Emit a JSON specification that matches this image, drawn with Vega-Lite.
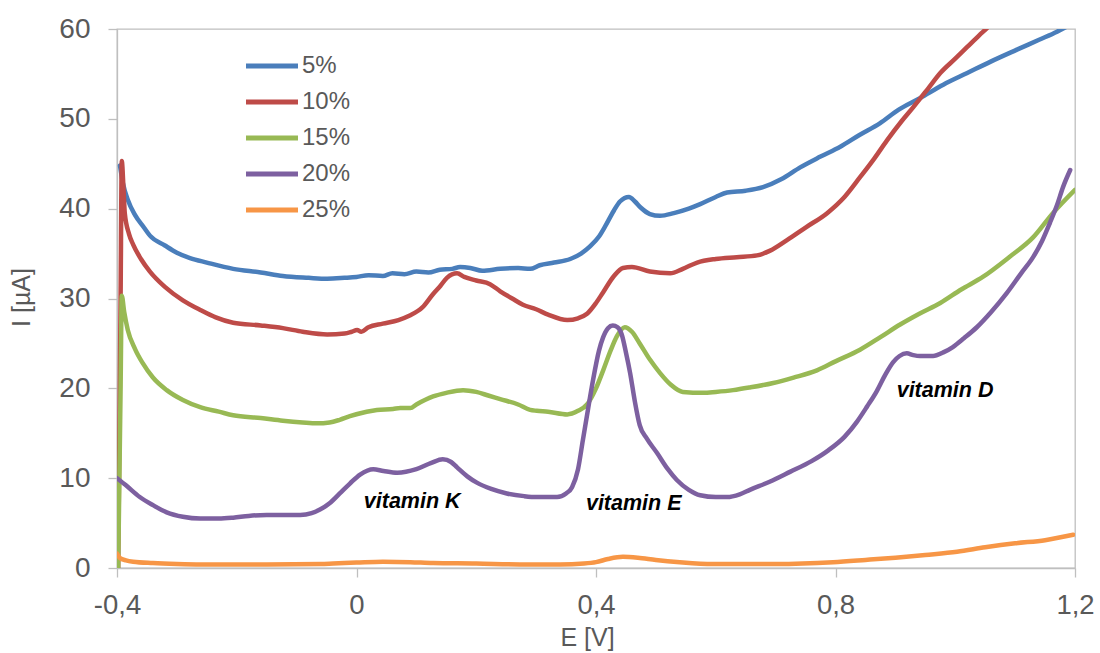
{
  "$schema": "https://vega.github.io/schema/vega-lite/v6.json",
  "width": 958,
  "height": 539,
  "autosize": {"type": "none"},
  "padding": {"left": 117, "top": 29, "right": 25, "bottom": 85},
  "config": {
    "font": "Liberation Sans",
    "view": {"stroke": "#BFBFBF", "strokeWidth": 1.3},
    "axis": {
      "grid": false,
      "domainColor": "#BFBFBF",
      "domainWidth": 1.3,
      "tickColor": "#BFBFBF",
      "tickWidth": 1.3,
      "tickSize": 9,
      "labelColor": "#595959",
      "titleColor": "#595959",
      "labelFont": "Liberation Sans",
      "titleFont": "Liberation Sans",
      "titleFontWeight": "normal",
      "labelOverlap": false,
      "labelFlush": false
    }
  },
  "datasets": {
    "curves": [
      {"s": "5%", "E": -0.395, "I": 44.8}, {"s": "5%", "E": -0.39, "I": 42.8}, {"s": "5%", "E": -0.382, "I": 41.0},
      {"s": "5%", "E": -0.37, "I": 39.3}, {"s": "5%", "E": -0.355, "I": 37.9}, {"s": "5%", "E": -0.345, "I": 37.0},
      {"s": "5%", "E": -0.32, "I": 35.9}, {"s": "5%", "E": -0.3, "I": 35.1}, {"s": "5%", "E": -0.278, "I": 34.5},
      {"s": "5%", "E": -0.25, "I": 34.0}, {"s": "5%", "E": -0.206, "I": 33.3}, {"s": "5%", "E": -0.16, "I": 32.9},
      {"s": "5%", "E": -0.123, "I": 32.5}, {"s": "5%", "E": -0.08, "I": 32.3}, {"s": "5%", "E": -0.049, "I": 32.2},
      {"s": "5%", "E": -0.02, "I": 32.3}, {"s": "5%", "E": 0.0, "I": 32.4}, {"s": "5%", "E": 0.02, "I": 32.6},
      {"s": "5%", "E": 0.044, "I": 32.5}, {"s": "5%", "E": 0.06, "I": 32.8}, {"s": "5%", "E": 0.08, "I": 32.7},
      {"s": "5%", "E": 0.1, "I": 33.0}, {"s": "5%", "E": 0.12, "I": 32.9}, {"s": "5%", "E": 0.139, "I": 33.2},
      {"s": "5%", "E": 0.16, "I": 33.3}, {"s": "5%", "E": 0.173, "I": 33.5}, {"s": "5%", "E": 0.19, "I": 33.4},
      {"s": "5%", "E": 0.21, "I": 33.1}, {"s": "5%", "E": 0.24, "I": 33.3}, {"s": "5%", "E": 0.27, "I": 33.4},
      {"s": "5%", "E": 0.29, "I": 33.3}, {"s": "5%", "E": 0.306, "I": 33.7}, {"s": "5%", "E": 0.33, "I": 34.0},
      {"s": "5%", "E": 0.357, "I": 34.4}, {"s": "5%", "E": 0.375, "I": 35.0}, {"s": "5%", "E": 0.39, "I": 35.8},
      {"s": "5%", "E": 0.405, "I": 36.9}, {"s": "5%", "E": 0.415, "I": 38.0}, {"s": "5%", "E": 0.43, "I": 39.8},
      {"s": "5%", "E": 0.44, "I": 40.8}, {"s": "5%", "E": 0.455, "I": 41.3}, {"s": "5%", "E": 0.465, "I": 40.8},
      {"s": "5%", "E": 0.475, "I": 40.1}, {"s": "5%", "E": 0.49, "I": 39.4}, {"s": "5%", "E": 0.507, "I": 39.2},
      {"s": "5%", "E": 0.53, "I": 39.5}, {"s": "5%", "E": 0.555, "I": 40.0}, {"s": "5%", "E": 0.574, "I": 40.5},
      {"s": "5%", "E": 0.6, "I": 41.3}, {"s": "5%", "E": 0.619, "I": 41.8}, {"s": "5%", "E": 0.65, "I": 42.0},
      {"s": "5%", "E": 0.679, "I": 42.4}, {"s": "5%", "E": 0.71, "I": 43.3}, {"s": "5%", "E": 0.741, "I": 44.6},
      {"s": "5%", "E": 0.775, "I": 45.8}, {"s": "5%", "E": 0.808, "I": 46.9}, {"s": "5%", "E": 0.84, "I": 48.2},
      {"s": "5%", "E": 0.874, "I": 49.5}, {"s": "5%", "E": 0.905, "I": 51.0}, {"s": "5%", "E": 0.941, "I": 52.3},
      {"s": "5%", "E": 0.98, "I": 53.8}, {"s": "5%", "E": 1.02, "I": 55.1}, {"s": "5%", "E": 1.06, "I": 56.4},
      {"s": "5%", "E": 1.103, "I": 57.7}, {"s": "5%", "E": 1.14, "I": 58.8}, {"s": "5%", "E": 1.17, "I": 59.7},
      {"s": "5%", "E": 1.19, "I": 60.4},

      {"s": "10%", "E": -0.398, "I": 0.0}, {"s": "10%", "E": -0.394, "I": 30.0}, {"s": "10%", "E": -0.392, "I": 45.3},
      {"s": "10%", "E": -0.389, "I": 42.0}, {"s": "10%", "E": -0.387, "I": 39.5}, {"s": "10%", "E": -0.38, "I": 37.2},
      {"s": "10%", "E": -0.373, "I": 36.0}, {"s": "10%", "E": -0.36, "I": 34.4}, {"s": "10%", "E": -0.345, "I": 33.0},
      {"s": "10%", "E": -0.32, "I": 31.3}, {"s": "10%", "E": -0.29, "I": 29.8}, {"s": "10%", "E": -0.26, "I": 28.7},
      {"s": "10%", "E": -0.235, "I": 27.9}, {"s": "10%", "E": -0.206, "I": 27.3}, {"s": "10%", "E": -0.16, "I": 27.0},
      {"s": "10%", "E": -0.123, "I": 26.7}, {"s": "10%", "E": -0.09, "I": 26.3}, {"s": "10%", "E": -0.049, "I": 26.0},
      {"s": "10%", "E": -0.02, "I": 26.1}, {"s": "10%", "E": -0.008, "I": 26.3}, {"s": "10%", "E": 0.001, "I": 26.5},
      {"s": "10%", "E": 0.008, "I": 26.3}, {"s": "10%", "E": 0.02, "I": 26.8}, {"s": "10%", "E": 0.044, "I": 27.2},
      {"s": "10%", "E": 0.07, "I": 27.6}, {"s": "10%", "E": 0.089, "I": 28.1}, {"s": "10%", "E": 0.11, "I": 29.0},
      {"s": "10%", "E": 0.128, "I": 30.5}, {"s": "10%", "E": 0.14, "I": 31.4}, {"s": "10%", "E": 0.151, "I": 32.3},
      {"s": "10%", "E": 0.168, "I": 32.8}, {"s": "10%", "E": 0.18, "I": 32.4}, {"s": "10%", "E": 0.2, "I": 32.0},
      {"s": "10%", "E": 0.223, "I": 31.6}, {"s": "10%", "E": 0.24, "I": 30.8}, {"s": "10%", "E": 0.26, "I": 30.0},
      {"s": "10%", "E": 0.278, "I": 29.3}, {"s": "10%", "E": 0.3, "I": 28.8}, {"s": "10%", "E": 0.32, "I": 28.2},
      {"s": "10%", "E": 0.352, "I": 27.6}, {"s": "10%", "E": 0.37, "I": 27.8}, {"s": "10%", "E": 0.385, "I": 28.3},
      {"s": "10%", "E": 0.4, "I": 29.5}, {"s": "10%", "E": 0.412, "I": 30.7}, {"s": "10%", "E": 0.43, "I": 32.5},
      {"s": "10%", "E": 0.445, "I": 33.4}, {"s": "10%", "E": 0.46, "I": 33.5}, {"s": "10%", "E": 0.49, "I": 33.0},
      {"s": "10%", "E": 0.524, "I": 32.8}, {"s": "10%", "E": 0.545, "I": 33.3}, {"s": "10%", "E": 0.569, "I": 34.0},
      {"s": "10%", "E": 0.6, "I": 34.4}, {"s": "10%", "E": 0.635, "I": 34.6}, {"s": "10%", "E": 0.669, "I": 34.8},
      {"s": "10%", "E": 0.69, "I": 35.3}, {"s": "10%", "E": 0.719, "I": 36.5}, {"s": "10%", "E": 0.75, "I": 37.9},
      {"s": "10%", "E": 0.786, "I": 39.5}, {"s": "10%", "E": 0.815, "I": 41.3}, {"s": "10%", "E": 0.841, "I": 43.5},
      {"s": "10%", "E": 0.865, "I": 45.6}, {"s": "10%", "E": 0.886, "I": 47.6}, {"s": "10%", "E": 0.91, "I": 49.7},
      {"s": "10%", "E": 0.93, "I": 51.3}, {"s": "10%", "E": 0.955, "I": 53.4}, {"s": "10%", "E": 0.975, "I": 55.1},
      {"s": "10%", "E": 1.0, "I": 56.7}, {"s": "10%", "E": 1.02, "I": 58.0}, {"s": "10%", "E": 1.04, "I": 59.3},
      {"s": "10%", "E": 1.053, "I": 60.1}, {"s": "10%", "E": 1.08, "I": 62.0},

      {"s": "15%", "E": -0.398, "I": 0.0}, {"s": "15%", "E": -0.394, "I": 20.0}, {"s": "15%", "E": -0.392, "I": 30.3},
      {"s": "15%", "E": -0.388, "I": 28.5}, {"s": "15%", "E": -0.382, "I": 26.5}, {"s": "15%", "E": -0.37, "I": 24.4},
      {"s": "15%", "E": -0.357, "I": 22.8}, {"s": "15%", "E": -0.34, "I": 21.2}, {"s": "15%", "E": -0.317, "I": 19.8},
      {"s": "15%", "E": -0.29, "I": 18.7}, {"s": "15%", "E": -0.261, "I": 17.9}, {"s": "15%", "E": -0.23, "I": 17.4},
      {"s": "15%", "E": -0.206, "I": 17.0}, {"s": "15%", "E": -0.16, "I": 16.7}, {"s": "15%", "E": -0.123, "I": 16.4},
      {"s": "15%", "E": -0.09, "I": 16.2}, {"s": "15%", "E": -0.066, "I": 16.1}, {"s": "15%", "E": -0.045, "I": 16.2},
      {"s": "15%", "E": -0.028, "I": 16.5}, {"s": "15%", "E": -0.011, "I": 16.9}, {"s": "15%", "E": 0.017, "I": 17.4},
      {"s": "15%", "E": 0.034, "I": 17.6}, {"s": "15%", "E": 0.061, "I": 17.7}, {"s": "15%", "E": 0.073, "I": 17.8},
      {"s": "15%", "E": 0.09, "I": 17.8}, {"s": "15%", "E": 0.1, "I": 18.2}, {"s": "15%", "E": 0.128, "I": 19.1},
      {"s": "15%", "E": 0.15, "I": 19.5}, {"s": "15%", "E": 0.178, "I": 19.8}, {"s": "15%", "E": 0.2, "I": 19.6},
      {"s": "15%", "E": 0.22, "I": 19.2}, {"s": "15%", "E": 0.24, "I": 18.8}, {"s": "15%", "E": 0.27, "I": 18.2},
      {"s": "15%", "E": 0.29, "I": 17.6}, {"s": "15%", "E": 0.301, "I": 17.5}, {"s": "15%", "E": 0.32, "I": 17.4},
      {"s": "15%", "E": 0.352, "I": 17.1}, {"s": "15%", "E": 0.37, "I": 17.5}, {"s": "15%", "E": 0.385, "I": 18.2},
      {"s": "15%", "E": 0.4, "I": 20.0}, {"s": "15%", "E": 0.412, "I": 22.0}, {"s": "15%", "E": 0.425, "I": 24.3},
      {"s": "15%", "E": 0.435, "I": 25.8}, {"s": "15%", "E": 0.448, "I": 26.8}, {"s": "15%", "E": 0.46, "I": 26.3},
      {"s": "15%", "E": 0.473, "I": 25.0}, {"s": "15%", "E": 0.49, "I": 23.2}, {"s": "15%", "E": 0.507, "I": 21.7},
      {"s": "15%", "E": 0.525, "I": 20.4}, {"s": "15%", "E": 0.545, "I": 19.6}, {"s": "15%", "E": 0.579, "I": 19.5},
      {"s": "15%", "E": 0.6, "I": 19.6}, {"s": "15%", "E": 0.629, "I": 19.8}, {"s": "15%", "E": 0.657, "I": 20.1},
      {"s": "15%", "E": 0.696, "I": 20.6}, {"s": "15%", "E": 0.73, "I": 21.2}, {"s": "15%", "E": 0.769, "I": 22.0},
      {"s": "15%", "E": 0.8, "I": 23.0}, {"s": "15%", "E": 0.841, "I": 24.3}, {"s": "15%", "E": 0.875, "I": 25.7},
      {"s": "15%", "E": 0.908, "I": 27.1}, {"s": "15%", "E": 0.94, "I": 28.3}, {"s": "15%", "E": 0.975, "I": 29.5},
      {"s": "15%", "E": 1.01, "I": 31.0}, {"s": "15%", "E": 1.046, "I": 32.4}, {"s": "15%", "E": 1.09, "I": 34.6},
      {"s": "15%", "E": 1.13, "I": 36.8}, {"s": "15%", "E": 1.163, "I": 39.5}, {"s": "15%", "E": 1.2, "I": 42.1},

      {"s": "20%", "E": -0.4, "I": 10.0}, {"s": "20%", "E": -0.385, "I": 9.2}, {"s": "20%", "E": -0.362, "I": 7.9},
      {"s": "20%", "E": -0.34, "I": 7.0}, {"s": "20%", "E": -0.317, "I": 6.2}, {"s": "20%", "E": -0.29, "I": 5.7},
      {"s": "20%", "E": -0.261, "I": 5.5}, {"s": "20%", "E": -0.23, "I": 5.5}, {"s": "20%", "E": -0.206, "I": 5.6},
      {"s": "20%", "E": -0.18, "I": 5.8}, {"s": "20%", "E": -0.15, "I": 5.9}, {"s": "20%", "E": -0.12, "I": 5.9},
      {"s": "20%", "E": -0.094, "I": 5.9}, {"s": "20%", "E": -0.075, "I": 6.1}, {"s": "20%", "E": -0.061, "I": 6.5},
      {"s": "20%", "E": -0.045, "I": 7.2}, {"s": "20%", "E": -0.028, "I": 8.3}, {"s": "20%", "E": -0.011, "I": 9.4},
      {"s": "20%", "E": 0.006, "I": 10.4}, {"s": "20%", "E": 0.028, "I": 11.0}, {"s": "20%", "E": 0.045, "I": 10.8},
      {"s": "20%", "E": 0.068, "I": 10.6}, {"s": "20%", "E": 0.1, "I": 11.0}, {"s": "20%", "E": 0.125, "I": 11.7},
      {"s": "20%", "E": 0.144, "I": 12.1}, {"s": "20%", "E": 0.158, "I": 11.8}, {"s": "20%", "E": 0.168, "I": 11.2},
      {"s": "20%", "E": 0.185, "I": 10.2}, {"s": "20%", "E": 0.201, "I": 9.5}, {"s": "20%", "E": 0.225, "I": 8.8},
      {"s": "20%", "E": 0.251, "I": 8.3}, {"s": "20%", "E": 0.28, "I": 8.0}, {"s": "20%", "E": 0.301, "I": 7.9},
      {"s": "20%", "E": 0.335, "I": 7.9}, {"s": "20%", "E": 0.35, "I": 8.3}, {"s": "20%", "E": 0.36, "I": 9.0},
      {"s": "20%", "E": 0.37, "I": 11.0}, {"s": "20%", "E": 0.378, "I": 14.2}, {"s": "20%", "E": 0.387, "I": 17.8},
      {"s": "20%", "E": 0.395, "I": 20.9}, {"s": "20%", "E": 0.405, "I": 24.2}, {"s": "20%", "E": 0.412, "I": 25.7},
      {"s": "20%", "E": 0.42, "I": 26.7}, {"s": "20%", "E": 0.428, "I": 27.0}, {"s": "20%", "E": 0.436, "I": 26.8},
      {"s": "20%", "E": 0.443, "I": 26.0}, {"s": "20%", "E": 0.45, "I": 24.0}, {"s": "20%", "E": 0.457, "I": 21.7},
      {"s": "20%", "E": 0.465, "I": 18.5}, {"s": "20%", "E": 0.473, "I": 15.9}, {"s": "20%", "E": 0.485, "I": 14.4},
      {"s": "20%", "E": 0.502, "I": 12.8}, {"s": "20%", "E": 0.52, "I": 11.0}, {"s": "20%", "E": 0.535, "I": 9.8},
      {"s": "20%", "E": 0.555, "I": 8.7}, {"s": "20%", "E": 0.574, "I": 8.1}, {"s": "20%", "E": 0.6, "I": 7.9},
      {"s": "20%", "E": 0.619, "I": 7.9}, {"s": "20%", "E": 0.64, "I": 8.2}, {"s": "20%", "E": 0.657, "I": 8.7},
      {"s": "20%", "E": 0.69, "I": 9.6}, {"s": "20%", "E": 0.724, "I": 10.7}, {"s": "20%", "E": 0.76, "I": 11.9},
      {"s": "20%", "E": 0.788, "I": 13.1}, {"s": "20%", "E": 0.815, "I": 14.6}, {"s": "20%", "E": 0.836, "I": 16.3},
      {"s": "20%", "E": 0.853, "I": 18.0}, {"s": "20%", "E": 0.869, "I": 19.7}, {"s": "20%", "E": 0.883, "I": 21.5},
      {"s": "20%", "E": 0.896, "I": 22.9}, {"s": "20%", "E": 0.907, "I": 23.6}, {"s": "20%", "E": 0.919, "I": 23.9},
      {"s": "20%", "E": 0.93, "I": 23.7}, {"s": "20%", "E": 0.941, "I": 23.6}, {"s": "20%", "E": 0.963, "I": 23.6},
      {"s": "20%", "E": 0.98, "I": 24.0}, {"s": "20%", "E": 0.996, "I": 24.6}, {"s": "20%", "E": 1.015, "I": 25.6},
      {"s": "20%", "E": 1.036, "I": 26.8}, {"s": "20%", "E": 1.06, "I": 28.5}, {"s": "20%", "E": 1.086, "I": 30.6},
      {"s": "20%", "E": 1.11, "I": 32.8}, {"s": "20%", "E": 1.13, "I": 34.6}, {"s": "20%", "E": 1.145, "I": 36.4},
      {"s": "20%", "E": 1.158, "I": 38.4}, {"s": "20%", "E": 1.17, "I": 40.4}, {"s": "20%", "E": 1.18, "I": 42.4},
      {"s": "20%", "E": 1.192, "I": 44.3},

      {"s": "25%", "E": -0.4, "I": 1.6}, {"s": "25%", "E": -0.395, "I": 1.1}, {"s": "25%", "E": -0.385, "I": 0.85},
      {"s": "25%", "E": -0.373, "I": 0.7}, {"s": "25%", "E": -0.34, "I": 0.55}, {"s": "25%", "E": -0.3, "I": 0.45},
      {"s": "25%", "E": -0.26, "I": 0.4}, {"s": "25%", "E": -0.15, "I": 0.4}, {"s": "25%", "E": -0.06, "I": 0.45},
      {"s": "25%", "E": -0.039, "I": 0.5}, {"s": "25%", "E": 0.0, "I": 0.6}, {"s": "25%", "E": 0.044, "I": 0.7},
      {"s": "25%", "E": 0.09, "I": 0.65}, {"s": "25%", "E": 0.128, "I": 0.55}, {"s": "25%", "E": 0.2, "I": 0.5},
      {"s": "25%", "E": 0.273, "I": 0.4}, {"s": "25%", "E": 0.34, "I": 0.4}, {"s": "25%", "E": 0.38, "I": 0.5},
      {"s": "25%", "E": 0.4, "I": 0.65}, {"s": "25%", "E": 0.42, "I": 1.0}, {"s": "25%", "E": 0.445, "I": 1.25},
      {"s": "25%", "E": 0.47, "I": 1.15}, {"s": "25%", "E": 0.5, "I": 0.9}, {"s": "25%", "E": 0.54, "I": 0.65},
      {"s": "25%", "E": 0.595, "I": 0.45}, {"s": "25%", "E": 0.7, "I": 0.45}, {"s": "25%", "E": 0.796, "I": 0.65},
      {"s": "25%", "E": 0.85, "I": 0.9}, {"s": "25%", "E": 0.9, "I": 1.15}, {"s": "25%", "E": 0.95, "I": 1.45},
      {"s": "25%", "E": 1.003, "I": 1.8}, {"s": "25%", "E": 1.05, "I": 2.3}, {"s": "25%", "E": 1.1, "I": 2.75},
      {"s": "25%", "E": 1.15, "I": 3.1}, {"s": "25%", "E": 1.197, "I": 3.7}
    ],
    "notes": [
      {"E": 0.093, "I": 7.35, "label": "vitamin K"},
      {"E": 0.463, "I": 7.1, "label": "vitamin E"},
      {"E": 0.983, "I": 19.7, "label": "vitamin D"}
    ]
  },
  "layer": [
    {
      "data": {"name": "curves"},
      "mark": {"type": "line", "strokeWidth": 4.5, "interpolate": "monotone", "clip": true, "strokeCap": "round", "strokeJoin": "round"},
      "encoding": {
        "x": {
          "field": "E", "type": "quantitative",
          "scale": {"domain": [-0.4, 1.2], "nice": false, "zero": false},
          "axis": {
            "values": [-0.4, 0, 0.4, 0.8, 1.2],
            "labelExpr": "replace(toString(datum.value), '.', ',')",
            "labelFontSize": 27.5,
            "labelBaseline": "alphabetic",
            "labelPadding": 36,
            "title": "E [V]",
            "titleFontSize": 25,
            "titleX": 470,
            "titleY": 77,
            "titleBaseline": "alphabetic",
            "titleAnchor": "middle"
          }
        },
        "y": {
          "field": "I", "type": "quantitative",
          "scale": {"domain": [0, 60], "nice": false},
          "axis": {
            "values": [0, 10, 20, 30, 40, 50, 60],
            "labelFontSize": 28,
            "labelPadding": 18,
            "labelBaseline": "middle",
            "title": "I [µA]",
            "titleFontSize": 25,
            "titleAngle": -90,
            "titleX": -96,
            "titleY": 268,
            "titleAlign": "center",
            "titleBaseline": "middle"
          }
        },
        "color": {
          "field": "s", "type": "nominal",
          "sort": ["5%", "10%", "15%", "20%", "25%"],
          "scale": {
            "domain": ["5%", "10%", "15%", "20%", "25%"],
            "range": ["#4A7EBB", "#BE4B48", "#98B954", "#7D60A0", "#F79646"]
          },
          "legend": {
            "title": null,
            "orient": "none",
            "legendX": 139.5,
            "legendY": 21.5,
            "padding": 0,
            "symbolType": "M-2,0H2",
            "symbolSize": 676,
            "symbolStrokeWidth": 5,
            "symbolStrokeCap": "round",
            "rowPadding": 8,
            "labelOffset": 14.5,
            "labelFontSize": 24,
            "labelColor": "#595959",
            "labelFont": "Liberation Sans"
          }
        }
      }
    },
    {
      "data": {"name": "notes"},
      "mark": {"type": "text", "font": "Liberation Sans", "fontSize": 21.5, "fontStyle": "italic", "fontWeight": "bold", "color": "#000000", "align": "center", "baseline": "middle"},
      "encoding": {
        "x": {"field": "E", "type": "quantitative"},
        "y": {"field": "I", "type": "quantitative"},
        "text": {"field": "label"}
      }
    }
  ]
}
